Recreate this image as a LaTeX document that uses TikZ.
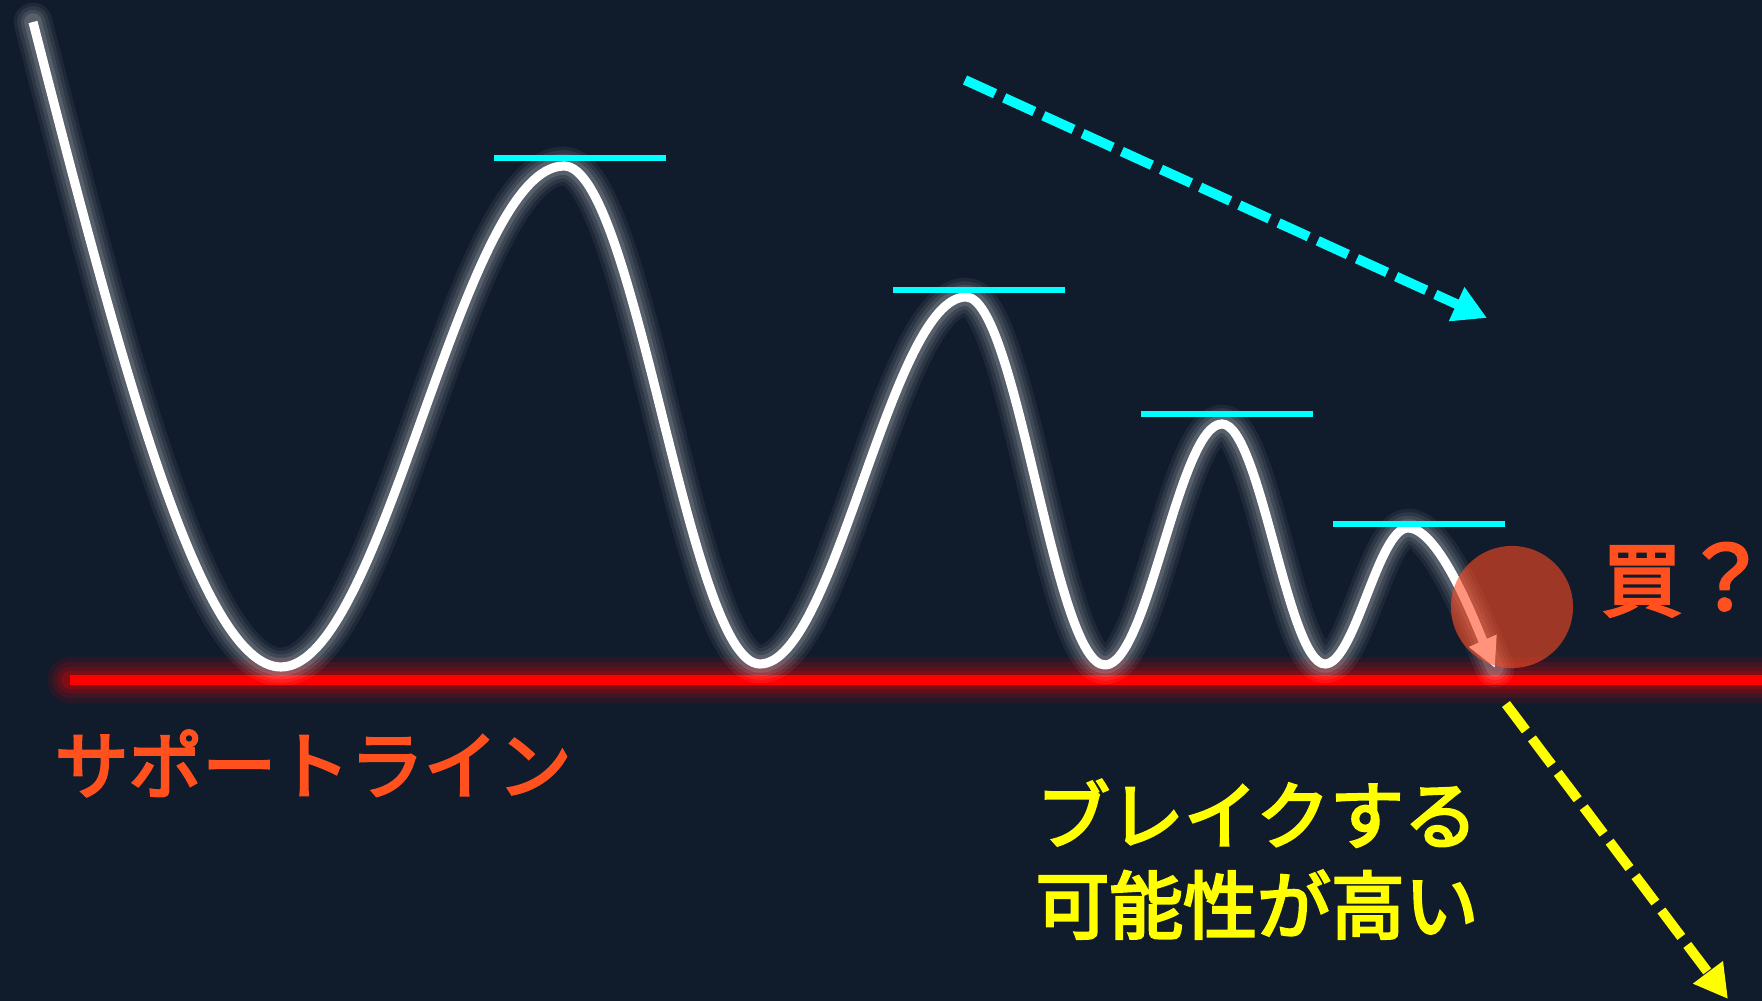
\documentclass[tikz,border=0pt]{standalone}
\usepackage{fontspec}
\newfontfamily\jpfont{Noto Sans CJK JP}[FakeBold=3.5]
\usetikzlibrary{arrows.meta}

\definecolor{bgnavy}{RGB}{16,27,44}
\definecolor{supportred}{RGB}{255,0,0}
\definecolor{labelorange}{RGB}{255,80,30}
\definecolor{buyorange}{RGB}{255,75,35}
\definecolor{levelcyan}{RGB}{0,255,255}
\definecolor{breakyellow}{RGB}{255,255,0}

\tikzset{
  halo/.style={line cap=round,line join=round,opacity=#1},
  levelline/.style={levelcyan,line width=1.45pt},
  trendarrow/.style={line width=2.8pt,dash pattern=on 9.4pt off 2.85pt,
    -{Triangle[length=9.5pt,width=10pt]}},
  jptext/.style={inner sep=0pt,font=\jpfont\fontsize{21pt}{25pt}\selectfont}
}

\newcommand\wavepath{(33,22) .. controls (120,360) and (200,667) .. (281,667)
  .. controls (384,667) and (461,166) .. (564,166)
  .. controls (635,166) and (689,664) .. (760,664)
  .. controls (835,664) and (891,297) .. (966,297)
  .. controls (1017,297) and (1054,665) .. (1105,665)
  .. controls (1148,665) and (1179,424) .. (1222,424)
  .. controls (1260,424) and (1288,664) .. (1325,664)
  .. controls (1355,664) and (1378,528) .. (1408,528)
  .. controls (1440,528) and (1478,630) .. (1495,668)}

\begin{document}
\begin{tikzpicture}[x=0.01cm,y=-0.01cm]
    \useasboundingbox (0,0) rectangle (1762,1001);
    \fill[bgnavy] (0,0) rectangle (1762,1001);

    % support line with its glow
    \foreach \w/\o in {13pt/0.1,10pt/0.12,7.5pt/0.15,5pt/0.2}
        \draw[halo=\o,supportred,line width=\w] (70,680) -- (1780,680);
    \draw[supportred,line width=2.9pt] (70,680) -- (1780,680);

    % price wave
    \foreach \w/\o in {11pt/0.06,9pt/0.07,7pt/0.09,5pt/0.12}
        \draw[halo=\o,white,line width=\w] \wavepath;
    \draw[white,line width=2.6pt,line join=round,-{Triangle[length=8.5pt,width=8pt]}] \wavepath;

    \foreach \xa/\xb/\y in {494/666/158,893/1065/290,1141/1313/414,1333/1505/524}
        \draw[levelline] (\xa,\y) -- (\xb,\y);

    \node[circle,fill=buyorange,opacity=0.6,inner sep=0pt,minimum size=1.22cm] (buyzone) at (1512,607) {};

    \coordinate (lowhighA) at (965,80);
    \coordinate (lowhighB) at (1487,318);
    \draw[trendarrow,levelcyan] (lowhighA) -- (lowhighB);
    \coordinate (breakA) at (1506,704);
    \coordinate (breakB) at (1728,999);
    \draw[trendarrow,breakyellow] (breakA) -- (breakB);

    \node[jptext,labelorange,anchor=base west] (support) at (54,793) {サポートライン};
    \node[jptext,labelorange,anchor=base west,font=\jpfont\fontsize{22.8pt}{26pt}\selectfont] (buy) at (1601,610) {買{\fontsize{25pt}{27pt}\selectfont ？\kern-0.3em}};
    \node[jptext,breakyellow,anchor=base] (break1) at (1257,843) {ブレイクする};
    \node[jptext,breakyellow,anchor=base] (break2) at (1257,933) {可能性が高い};
\end{tikzpicture}
\end{document}
